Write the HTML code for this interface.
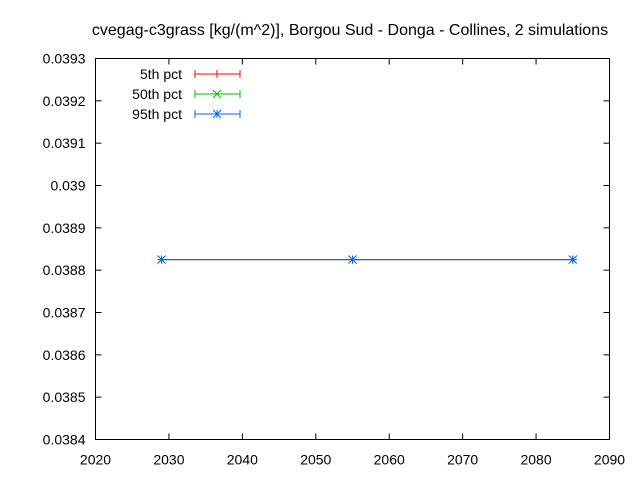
<!DOCTYPE html>
<html><head><meta charset="utf-8"><style>body{margin:0;background:#fff}svg text{font-family:"Liberation Sans",sans-serif;font-size:14px;fill:#000}</style></head>
<body>
<svg id="c" width="640" height="480" xmlns="http://www.w3.org/2000/svg">
<rect width="640" height="480" fill="#fff"/>
<text x="350" y="35" text-anchor="middle" style="font-size:16px">cvegag-c3grass [kg/(m^2)], Borgou Sud - Donga - Collines, 2 simulations</text>
</svg>
<script>
const xTicks=[2020,2030,2040,2050,2060,2070,2080,2090];
const yTicks=[0.0384,0.0385,0.0386,0.0387,0.0388,0.0389,0.039,0.0391,0.0392,0.0393];
const yTickLabels=["0.0384","0.0385","0.0386","0.0387","0.0388","0.0389","0.039","0.0391","0.0392","0.0393"];
const years=[2029,2055,2085];
const p5=[0.038825,0.038825,0.038825];
const p50=[0.038825,0.038825,0.038825];
const p95=[0.038825,0.038825,0.038825];
const L=95.5,R=609.5,T=58.5,B=439.5;
const sx=v=>L+(v-2020)/70*(R-L);
const sy=v=>B-(v-0.0384)/0.0009*(B-T);
const svg=document.getElementById('c');const NS='http://www.w3.org/2000/svg';
function mk(t,a){const e=document.createElementNS(NS,t);for(const k in a)e.setAttribute(k,a[k]);svg.appendChild(e);return e;}
const frame=mk('rect',{x:L,y:T,width:R-L,height:B-T,fill:'none',stroke:'#000'});


xTicks.forEach(v=>{const x=sx(v);
const t1=mk('line',{x1:x,y1:B,x2:x,y2:B-6,stroke:'#000'});


const t2=mk('line',{x1:x,y1:T,x2:x,y2:T+6,stroke:'#000'});


const tx=mk('text',{x:x,y:B+25,'text-anchor':'middle'});tx.textContent=v;

});
yTicks.forEach((v,i)=>{const y=sy(v);
const t1=mk('line',{x1:L,y1:y,x2:L+6,y2:y,stroke:'#000'});


const t2=mk('line',{x1:R,y1:y,x2:R-6,y2:y,stroke:'#000'});


const tx=mk('text',{x:L-10,y:y+5,'text-anchor':'end'});tx.textContent=yTickLabels[i];

});
function marker(type,x,y,c){const g=mk('g',{stroke:c,'stroke-width':1});
const s=4;
if(type!=='x'){const a=mk('line',{x1:x,y1:y-s,x2:x,y2:y+s});g.appendChild(a);}
if(type==='plus'){const a=mk('line',{x1:x-s,y1:y,x2:x+s,y2:y});g.appendChild(a);}
if(type!=='plus'){const a=mk('line',{x1:x-s,y1:y-s,x2:x+s,y2:y+s});const b=mk('line',{x1:x-s,y1:y+s,x2:x+s,y2:y-s});g.appendChild(a);g.appendChild(b);}
if(type==='star'){const a=mk('line',{x1:x-s,y1:y,x2:x+s,y2:y});g.appendChild(a);}
return g;}
const series=[["5th pct",p5,'#ff0000','plus'],["50th pct",p50,'#00c000','x'],["95th pct",p95,'#0066ff','star']];
series.forEach((s,i)=>{const [name,vals,c,m]=s;
const pts=years.map((y,j)=>sx(y)+','+sy(vals[j])).join(' ');
const pl=mk('polyline',{points:pts,fill:'none',stroke:c});


years.forEach((y,j)=>{const g=marker(m,sx(y),sy(vals[j]),c);

});
const ly=74+i*20;
const lt=mk('text',{x:182,y:ly+5,'text-anchor':'end'});lt.textContent=name;


const ll=mk('g',{stroke:c});


ll.appendChild(mk('line',{x1:195,y1:ly,x2:240,y2:ly}));
ll.appendChild(mk('line',{x1:195,y1:ly-4,x2:195,y2:ly+4}));
ll.appendChild(mk('line',{x1:240,y1:ly-4,x2:240,y2:ly+4}));
const lm=marker(m,217,ly,c);

});
</script>
</body></html>
